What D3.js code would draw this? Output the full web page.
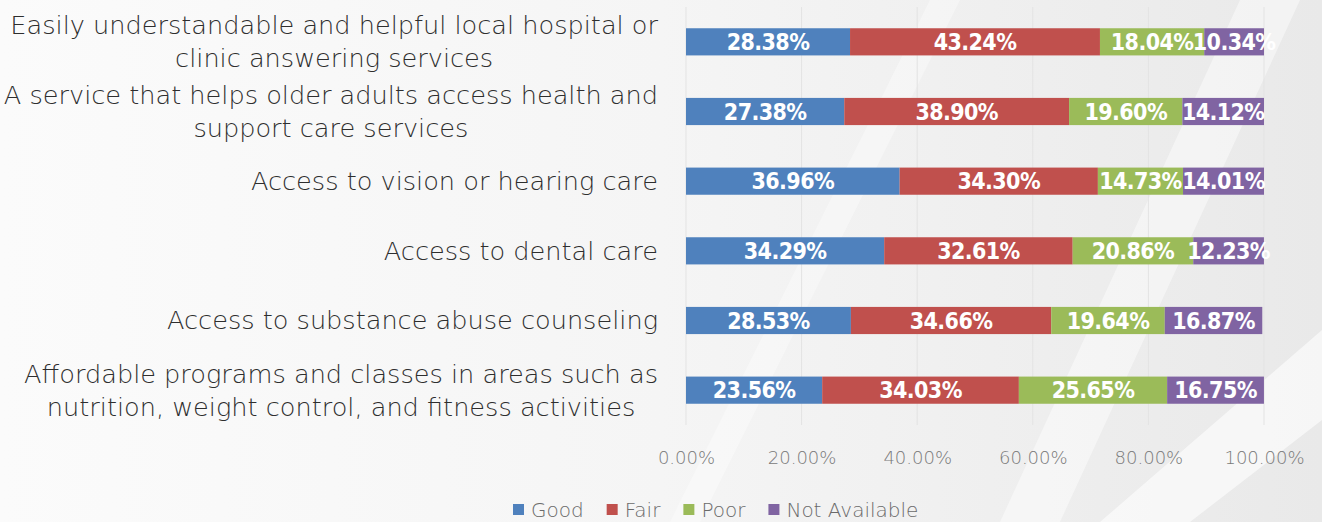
<!DOCTYPE html>
<html>
<head>
<meta charset="utf-8">
<script src="https://cdn.jsdelivr.net/npm/d3@7"></script>
<style>
  html, body { margin: 0; padding: 0; overflow: hidden; }
  text { font-family: "DejaVu Sans", "Open Sans", sans-serif; }
</style>
</head>
<body>
<div id="chart"></div>
<script>
// chart data
const categories = [
  ["Easily understandable and helpful local hospital or", "clinic answering services"],
  ["A service that helps older adults access health and", "support care services"],
  ["Access to vision or hearing care"],
  ["Access to dental care"],
  ["Access to substance abuse counseling"],
  ["Affordable programs and classes in areas such as", "nutrition, weight control, and fitness activities"]
]
const seriesNames = ["Good", "Fair", "Poor", "Not Available"]
const good = [28.38, 27.38, 36.96, 34.29, 28.53, 23.56]
const fair = [43.24, 38.90, 34.30, 32.61, 34.66, 34.03]
const poor = [18.04, 19.60, 14.73, 20.86, 19.64, 25.65]
const notAvailable = [10.34, 14.12, 14.01, 12.23, 16.87, 16.75]
const tickValues = [0, 20, 40, 60, 80, 100]
const colors = ["#4F81BD", "#C0504D", "#9BBB59", "#8064A2"]

var width = 1322, height = 522
var margin = { top: 7, left: 686, right: 58, bottom: 97 }
var innerW = width - margin.left - margin.right,
  innerH = height - margin.top - margin.bottom

var svg = d3.select("#chart").append("svg")
  .attr("width", width)
  .attr("height", height)

// background: soft grey gradient with some pale streaks
var defs = svg.append("defs")
var grad = defs.append("linearGradient").attr("id", "bg")
  .attr("x1", "0").attr("y1", "0").attr("x2", "1").attr("y2", "0")
grad.append("stop").attr("offset", "0").attr("stop-color", "#fbfbfb")
grad.append("stop").attr("offset", "0.5").attr("stop-color", "#f5f5f5")
grad.append("stop").attr("offset", "1").attr("stop-color", "#e9e9e9")
svg.append("rect").attr("width", width).attr("height", height).attr("fill", "url(#bg)")

svg.append("path")
  .attr("d", "M1240,0 L1300,0 L1060,522 L1000,522 Z")
  .attr("fill", "#ffffff").attr("opacity", 0.45)
svg.append("path")
  .attr("d", "M1322,330 L1322,420 L1190,522 L1100,522 Z")
  .attr("fill", "#ffffff").attr("opacity", 0.6)
svg.append("path")
  .attr("d", "M930,0 L960,0 L700,522 L670,522 Z")
  .attr("fill", "#ffffff").attr("opacity", 0.35)

var g = svg.append("g")
  .attr("transform", "translate(" + margin.left + "," + margin.top + ")")

var x = d3.scaleLinear().domain([0, 100]).range([0, innerW])
var y = d3.scaleBand()
  .domain(d3.range(categories.length))
  .range([0, innerH])
  .paddingInner(0.61).paddingOuter(0.305)

// gridlines
g.selectAll(".grid")
  .data(tickValues)
  .enter().append("line")
  .attr("x1", d => x(d)).attr("x2", d => x(d))
  .attr("y1", 0).attr("y2", innerH)
  .attr("stroke", "#e3e3e3").attr("stroke-width", 1)

// stacked data
var rows = categories.map((c, i) => ({
  i: i, Good: good[i], Fair: fair[i], Poor: poor[i], "Not Available": notAvailable[i]
}))
var stack = d3.stack().keys(seriesNames)(rows)

var layer = g.selectAll(".layer")
  .data(stack)
  .enter().append("g")
  .attr("fill", (d, i) => colors[i])

layer.selectAll("rect")
  .data(d => d)
  .enter().append("rect")
  .attr("x", d => x(d[0]))
  .attr("y", d => y(d.data.i))
  .attr("width", d => x(d[1]) - x(d[0]))
  .attr("height", y.bandwidth())

layer.selectAll("text")
  .data(d => d)
  .enter().append("text")
  .attr("x", d => (x(d[0]) + x(d[1])) / 2)
  .attr("y", d => y(d.data.i) + y.bandwidth() / 2)
  .attr("dy", "0.36em")
  .attr("text-anchor", "middle")
  .attr("fill", "#ffffff")
  .style("font-family", "'DejaVu Sans Condensed', 'DejaVu Sans', sans-serif")
  .style("font-weight", "bold")
  .style("font-size", "23px")
  .style("letter-spacing", "-0.6px")
  .text(d => (d[1] - d[0]).toFixed(2) + "%")

// category labels (multi-line centered, block right aligned)
var labelRight = 658
categories.forEach((lines, i) => {
  var cy = margin.top + y(i) + y.bandwidth() / 2
  var lh = 33
  var t = svg.append("text")
    .attr("text-anchor", "middle")
    .attr("fill", "#2e2e2e")
    .style("font-size", "25.6px")
    .style("font-weight", "200")
  lines.forEach((l, j) => {
    t.append("tspan")
      .attr("y", cy + (j - (lines.length - 1) / 2) * lh)
      .attr("dy", "0.35em")
      .text(l)
  })
  var maxW = d3.max(t.selectAll("tspan").nodes(), n => n.getComputedTextLength())
  t.selectAll("tspan").attr("x", labelRight - maxW / 2)
})

// x axis labels
var xAxis = g.append("g")
  .attr("transform", "translate(0," + innerH + ")")
  .call(d3.axisBottom(x).tickValues(tickValues).tickSize(0).tickPadding(26)
    .tickFormat(d => d.toFixed(2) + "%"))
xAxis.select(".domain").remove()
xAxis.selectAll("text")
  .attr("fill", "#7a7a7a")
  .style("font-size", "18px")
  .style("font-weight", "200")
  .style("font-family", "'DejaVu Sans', sans-serif")

// legend
var legend = svg.append("g")
var lx = 513
seriesNames.forEach((name, i) => {
  var item = legend.append("g")
  item.append("rect")
    .attr("x", lx).attr("y", 504)
    .attr("width", 11).attr("height", 11)
    .attr("fill", colors[i])
  var t = item.append("text")
    .attr("x", lx + 18).attr("y", 510)
    .attr("dy", "0.35em")
    .attr("fill", "#6a6a6a")
    .style("font-size", "20px")
    .style("font-weight", "200")
    .text(name)
  lx += 18 + t.node().getComputedTextLength() + 23
})
</script>
</body>
</html>
